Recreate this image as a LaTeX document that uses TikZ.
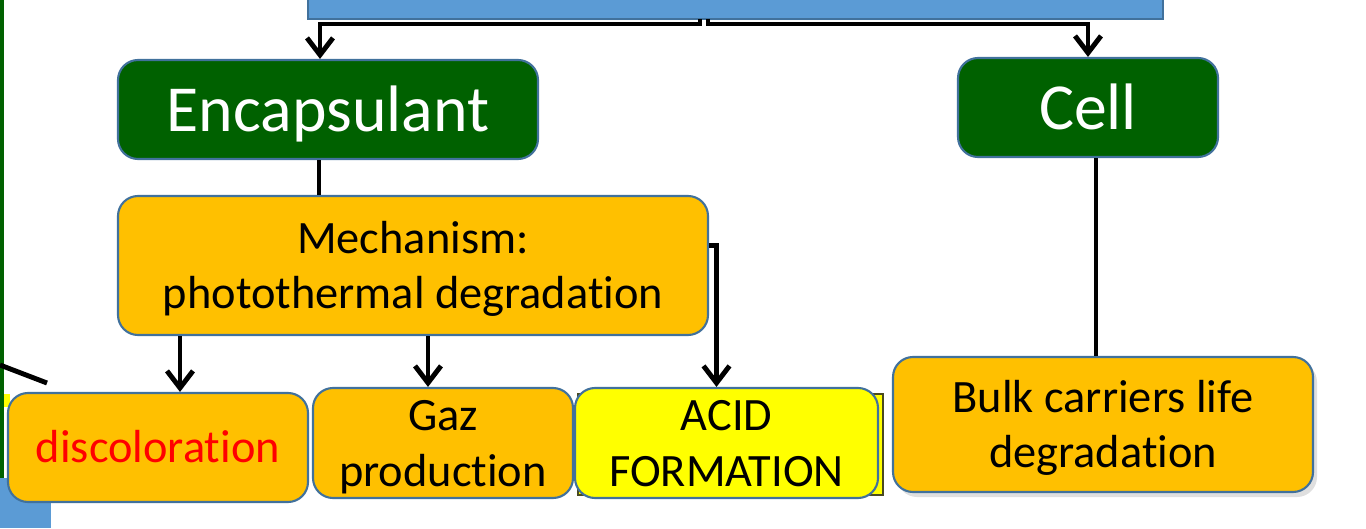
\documentclass[tikz,border=0pt]{standalone}
\usepackage{fontspec}
\setmainfont{Carlito}[Ligatures={NoCommon,NoContextual}]
\usetikzlibrary{arrows.meta,shadows}
\definecolor{boxgreen}{HTML}{006100}
\definecolor{boxorange}{HTML}{FFC000}
\definecolor{boxyellow}{HTML}{FFFF00}
\definecolor{boxblue}{HTML}{5B9BD5}
\definecolor{boxline}{HTML}{41719C}
\definecolor{backline}{HTML}{4A4A20}
\begin{document}
\begin{tikzpicture}[
    box/.style={draw=boxline, line width=0.6pt, rounded corners=0.2cm, inner sep=0pt, align=center},
    part/.style={box, fill=boxgreen, text=white, font=\fontsize{18.7}{22}\selectfont,
      text height=16pt, text depth=3.5pt},
    effect/.style={box, fill=boxorange, font=\fontsize{13.2}{15.8}\selectfont,
      text height=12pt, text depth=3.2pt},
    twoline/.style={effect, text height=27.8pt},
    link/.style={line width=1.4pt},
    arr/.style={link, -{Straight Barb[length=1.7mm,width=2.6mm]}}]
  \useasboundingbox (0,0) rectangle (13.66,5.28);
  % left edge pieces
  \fill[boxgreen] (0,0.5) rectangle (0.04,5.28);
  \fill[boxblue] (0,0) rectangle (0.51,0.5);
  \fill[boxyellow] (0.04,1.21) rectangle (0.10,1.34);
  \draw[link] (0,1.63) -- (0.47,1.45);
  % top level
  \node[draw=boxline, fill=boxblue, line width=0.6pt, minimum width=8.55cm, minimum height=0.5cm] (Top) at (7.355,5.34) {};
  \node[part, minimum width=4.2cm, minimum height=0.99cm] (Encap) at (3.28,4.185) {Encapsulant};
  \node[part, minimum width=2.6cm, minimum height=0.99cm] (Cell) at (10.88,4.205) {Cell};
  \coordinate (tl) at (7.00,5.09); \coordinate (tr) at (7.08,5.09);
  \draw[arr] (tl) -- ++(0,-0.05) -| ([xshift=-0.08cm]Encap.north);
  \draw[arr] (tr) -- ++(0,-0.05) -| (Cell.north);
  % mechanism
  \node[twoline, minimum width=5.9cm, minimum height=1.39cm] (Mech) at (4.13,2.625)
    {Mechanism:\\photothermal degradation};
  \draw[link] ([xshift=-0.09cm]Encap.south) -- ([xshift=-0.09cm]Encap.south |- Mech.north);
  % effects
  \node[effect, minimum width=3.0cm, minimum height=1.09cm, text=red] (Disc) at (1.58,0.805) {discoloration};
  \node[twoline, minimum width=2.6cm, minimum height=1.1cm] (Gaz) at (4.43,0.85) {Gaz\\production};
  \node[draw=backline, fill=boxyellow, line width=0.6pt, minimum width=3.05cm, minimum height=1.01cm] (AcidBack) at (7.305,0.835) {};
  \node[twoline, fill=boxyellow, minimum width=3.03cm, minimum height=1.1cm] (Acid) at (7.265,0.85) {ACID\\FORMATION};
  \node[twoline, minimum width=4.2cm, minimum height=1.35cm,
    drop shadow={shadow xshift=0.04cm, shadow yshift=-0.05cm, opacity=0.25}] (Bulk) at (11.03,1.035)
    {Bulk carriers life\\degradation};
  \draw[arr] (Mech.south -| 1.80,0) -- (Disc.north -| 1.80,0);
  \draw[arr] (Mech.south -| 4.28,0) -- (Gaz.north -| 4.28,0);
  \draw[arr] ([yshift=0.2cm]Mech.east) -| ([xshift=-0.1cm]Acid.north);
  \draw[link] (Cell.south -| 10.96,0) -- (Bulk.north -| 10.96,0);
\end{tikzpicture}
\end{document}
